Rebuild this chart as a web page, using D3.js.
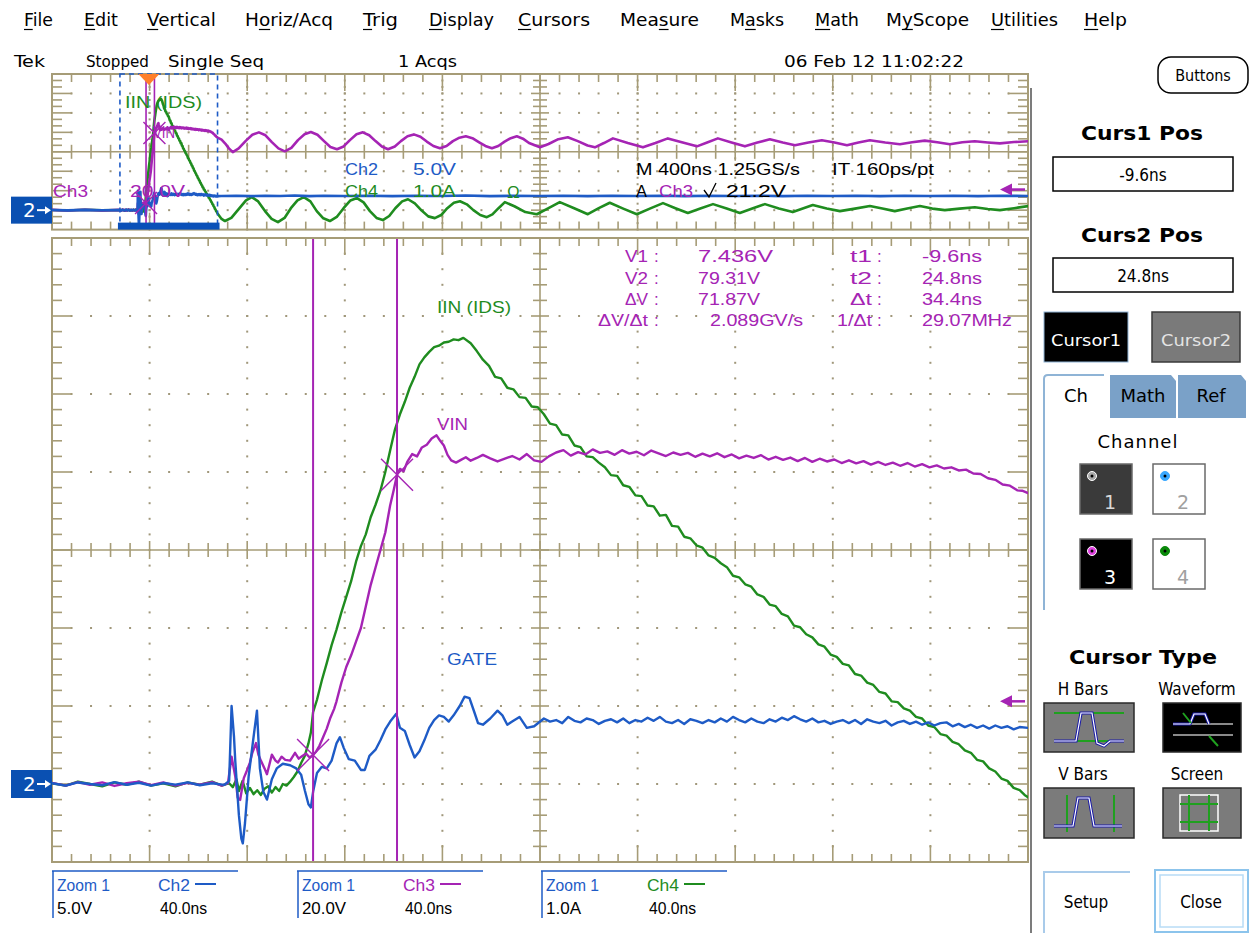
<!DOCTYPE html>
<html>
<head>
<meta charset="utf-8">
<title>Tek scope – cursor measurement</title>
<script src="https://cdn.jsdelivr.net/npm/d3@7"></script>
<style>
  html, body { margin: 0; padding: 0; background: #fff; }
  svg { display: block; }
</style>
</head>
<body>
<svg id="scope" width="1256" height="933"></svg>
<script>
// ---------------------------------------------------------------------------
// Acquisition settings
// ---------------------------------------------------------------------------
const channelNames   = ["Ch2", "Ch3", "Ch4"];
const channelLabels  = ["GATE", "VIN", "IIN (IDS)"];
const unitsPerDiv    = [5, 20, 1];            // Ch2 V/div, Ch3 V/div, Ch4 A/div
const zoomWindowNs   = [-116.6, 283.4];       // Zoom 1: 40 ns/div
const recordWindowNs = [-395, 3605];          // main record: 400 ns/div
const cursorTimesNs  = [-9.6, 24.8];
const cursorVolts    = [7.436, 79.31];
const triggerLevelV  = 21.2;

// Cursor readout table
const readLeftLabels  = ["V1", "V2", "\u0394V", "\u0394V/\u0394t"];
const readLeftValues  = ["7.436V", "79.31V", "71.87V", "2.089GV/s"];
const readRightLabels = ["t1", "t2", "\u0394t", "1/\u0394t"];
const readRightValues = ["-9.6ns", "24.8ns", "34.4ns", "29.07MHz"];

// ---------------------------------------------------------------------------
// Waveforms inside the zoom window: [time ns, value]
// ---------------------------------------------------------------------------
const iinZoom = [
  [-116.6,0.01],[-111,-0.02],[-106,0.03],[-101,0.0],[-96,-0.03],[-91,0.02],[-86,-0.01],[-81,0.03],
  [-76,-0.02],[-71,0.01],[-66,-0.03],[-61,0.02],[-56,-0.01],[-51,0.03],[-47,-0.02],[-44,0.01],
  [-42.5,-0.04],[-41,0.06],[-40,-0.09],[-38.5,0.04],[-37,-0.12],[-35.5,-0.05],[-34,-0.13],[-32.5,-0.08],
  [-31,-0.14],[-29.5,-0.06],[-28,-0.03],[-26.5,-0.11],[-25,-0.04],[-23.5,-0.09],[-22,0.0],[-20.5,-0.02],
  [-19,0.03],[-17.5,0.09],[-16,0.16],[-14.5,0.27],[-13,0.36],[-11.5,0.52],[-10.5,0.66],[-9.6,0.92],
  [-8,1.08],[-6,1.33],[-4,1.55],[-2,1.78],[0,1.98],[2,2.2],[4,2.4],[6,2.6],[8,2.85],[10,3.05],
  [12,3.2],[14,3.42],[16,3.58],[18,3.76],[20,4.0],[22,4.28],[24,4.55],[26,4.74],[28,4.9],[30,5.08],
  [32,5.22],[34,5.38],[36,5.47],[38,5.54],[40,5.6],[42,5.62],[44,5.66],[46,5.67],[48,5.7],[50,5.69],
  [52,5.72],[55,5.65],[57.5,5.55],[60,5.44],[62.5,5.36],[65,5.22],[67.5,5.2],[70,5.08],[72.5,5.06],
  [75,4.96],[77.5,4.95],[80,4.84],[82.5,4.83],[85,4.74],[87.5,4.62],[90,4.6],[92.5,4.48],[95,4.47],
  [97.5,4.34],[100,4.32],[102.5,4.2],[105,4.19],[107.5,4.12],[110,4.06],[112.5,3.96],[115,3.95],
  [117.5,3.83],[120,3.81],[122.5,3.7],[125,3.69],[127.5,3.57],[130,3.56],[132.5,3.44],[135,3.45],
  [137.5,3.31],[140,3.3],[142.5,3.17],[145,3.15],[147.5,3.06],[150,3.03],[152.5,2.93],[155,2.9],
  [157.5,2.83],[160,2.78],[162.5,2.67],[165,2.65],[167.5,2.56],[170,2.53],[172.5,2.43],[175,2.4],
  [177.5,2.3],[180,2.28],[182.5,2.18],[185,2.15],[187.5,2.03],[190,2.01],[192.5,1.92],[195,1.88],
  [197.5,1.79],[200,1.76],[202.5,1.66],[205,1.63],[207.5,1.54],[210,1.52],[212.5,1.41],[215,1.39],
  [217.5,1.3],[220,1.27],[222.5,1.18],[225,1.16],[227.5,1.06],[230,1.05],[232.5,0.97],[235,0.94],
  [237.5,0.86],[240,0.84],[242.5,0.75],[245,0.73],[247.5,0.64],[250,0.62],[252.5,0.54],[255,0.51],
  [257.5,0.43],[260,0.4],[262.5,0.31],[265,0.29],[267.5,0.2],[270,0.16],[272.5,0.07],[275,0.04],
  [277.5,-0.05],[280,-0.08],[282,-0.14],[283.4,-0.17]
];

const vinZoom = [
  [-116.6,0.3],[-111,-0.4],[-106,0.5],[-101,-0.2],[-96,0.4],[-91,-0.5],[-86,0.2],[-81,0.6],[-76,-0.3],
  [-71,0.4],[-66,-0.4],[-61,0.3],[-56,-0.2],[-51,0.5],[-47,-0.4],[-44.5,0.2],[-43,7.0],[-41.5,2.0],
  [-40.5,-3.5],[-39.5,-4.1],[-38,1.5],[-37,3.0],[-35.5,5.5],[-34.5,8.0],[-33,10.5],[-32,7.5],[-31,6.0],
  [-29.5,4.0],[-28.5,2.5],[-27.5,5.0],[-26.5,7.5],[-25,6.0],[-24,5.5],[-22.5,7.0],[-21,6.2],[-19,6.0],
  [-17,8.0],[-15.5,6.5],[-14,7.2],[-12.5,7.8],[-11,6.8],[-9.6,7.436],[-8.5,8.2],[-7,9.8],[-5.5,12.0],
  [-4,14.2],[-2.5,17.0],[-1,19.2],[0,21.2],[2,26.0],[4,30.0],[6,33.0],[8,36.5],[10,40.0],[12,45.5],
  [14,51.0],[16,55.5],[18,60.0],[20,64.5],[22,71.5],[23.5,75.5],[24.8,79.31],[26,80.8],[27.5,80.2],
  [29,82.6],[31,84.6],[33,84.0],[35,86.3],[37,87.0],[39,88.6],[41,89.4],[42.5,88.0],[44,86.8],
  [45.5,84.4],[47,83.0],[49,82.4],[51,83.1],[53,83.8],[55,82.9],[57.5,83.6],[60,84.4],[63,83.5],
  [66,82.7],[69,83.4],[72,84.1],[75,83.2],[78,84.6],[81,83.0],[84,82.6],[87,84.0],[90,85.0],[93,85.6],
  [96,84.2],[99,85.1],[102,84.5],[105,85.8],[108,84.9],[111,85.3],[114,84.4],[117,85.6],[120,84.7],
  [123,85.2],[126,84.3],[129,85.5],[132,84.8],[135,84.1],[138,85.0],[141,84.4],[144,84.9],[147,83.9],
  [150,84.7],[153,84.0],[156,84.8],[159,83.8],[162,84.5],[165,83.5],[168,84.2],[171,83.6],[174,84.3],
  [177,83.2],[180,83.9],[183,83.1],[186,83.7],[189,82.8],[192,83.6],[195,82.6],[198,83.4],[201,82.7],
  [204,83.2],[207,82.3],[210,83.0],[213,82.2],[216,82.8],[219,81.9],[222,82.6],[225,81.8],[228,82.4],
  [231,81.6],[234,82.3],[237,81.4],[240,82.0],[243,81.2],[246,81.7],[249,80.9],[252,81.2],[255,80.4],
  [258,80.6],[261,79.6],[264,79.5],[267,78.4],[270,78.0],[273,76.8],[276,76.5],[279,75.3],[281,75.2],
  [283.4,74.6]
];

const gateZoom = [
  [-116.6,0.05],[-111,-0.1],[-106,0.1],[-101,0.0],[-96,-0.08],[-91,0.12],[-86,-0.05],[-81,0.08],
  [-76,-0.1],[-71,0.06],[-66,-0.04],[-61,0.1],[-56,-0.08],[-51,0.05],[-46,-0.06],[-44,0.2],[-43,5.0],
  [-42,3.0],[-41.5,1.5],[-40,-2.0],[-39,-3.5],[-38.4,-3.8],[-37.5,-2.5],[-36,0.5],[-34,3.0],[-32.6,4.7],
  [-31.4,1.0],[-30,-0.5],[-28.5,-1.0],[-26.5,0.3],[-24.5,1.0],[-22,1.3],[-19,1.2],[-16.5,1.0],
  [-14.5,0.6],[-13,-0.4],[-11.5,-1.3],[-10.5,-1.5],[-9.6,-0.5],[-8,0.7],[-6,1.1],[-4,1.0],[-2,1.5],
  [0,2.6],[1.4,3.0],[3,2.3],[5,1.6],[7.5,1.5],[10,0.9],[11.6,0.9],[13.5,1.8],[16,2.2],[18,2.8],
  [20,3.5],[22,4.0],[24.5,4.5],[26,3.6],[28,3.4],[30,2.5],[32,1.7],[34,2.1],[36,2.8],[38,3.6],[40,4.1],
  [42,4.4],[44,4.3],[46,4.0],[48,4.4],[50.5,5.0],[52.5,5.6],[54.5,5.5],[56.5,4.6],[58,3.9],[60,3.8],
  [63,4.2],[66,4.7],[68,4.4],[70,3.8],[72,4.0],[75,4.3],[78,3.6],[81,3.7],[85,4.2],[87.5,4.0],[90,4.1],
  [92.5,3.9],[95,4.3],[97.5,4.05],[100,3.95],[102.5,4.2],[105,4.1],[107.5,3.85],[110,4.05],[112.5,4.15],
  [115,3.95],[117.5,4.2],[120,3.9],[122.5,4.1],[125,4.0],[127.5,4.25],[130,4.05],[132.5,4.3],[135,4.0],
  [137.5,3.9],[140,4.1],[142.5,3.85],[145,4.15],[147.5,4.05],[150,3.9],[152.5,4.1],[155,3.95],
  [157.5,4.2],[160,4.0],[162.5,4.3],[165,4.1],[167.5,3.95],[170,4.2],[172.5,4.0],[175,3.9],[177.5,4.15],
  [180,4.0],[182.5,4.25],[185,4.1],[187.5,4.35],[190,4.15],[192.5,4.0],[195,4.2],[197.5,3.95],
  [200,4.05],[202.5,3.85],[205,4.0],[207.5,4.1],[210,3.9],[212.5,4.1],[215,3.85],[217.5,4.15],
  [220,4.0],[222.5,3.9],[225,4.05],[227.5,3.75],[230,3.95],[232.5,4.05],[235,3.85],[237.5,4.0],
  [240,3.8],[242.5,3.95],[245,3.75],[247.5,3.9],[250,3.95],[252.5,3.7],[255,3.85],[257.5,3.65],
  [260,3.8],[262.5,3.6],[265,3.75],[267.5,3.55],[270,3.75],[272.5,3.6],[275,3.7],[277.5,3.5],
  [280,3.65],[283.4,3.6]
];

// Rest of the 4 us record: before and after the zoom window
const iinLead  = [[-395,0.01],[-330,-0.02],[-260,0.02],[-190,-0.01]];
const vinLead  = [[-395,0.3],[-330,-0.4],[-260,0.4],[-190,-0.3]];
const gateLead = [[-395,0.05],[-330,-0.05],[-260,0.08],[-190,-0.04]];

const iinTail = [
  [300,-0.45],[314,-0.56],[340,-0.4],[370,0.05],[400,0.5],[424,0.67],[450,0.45],[478,-0.05],[505,-0.45],
  [531,-0.62],[558,-0.4],[584,0.1],[611,0.5],[637,0.67],[664,0.45],[690,-0.05],[717,-0.42],[744,-0.56],
  [772,-0.35],[800,0.1],[828,0.5],[855,0.62],[882,0.4],[908,-0.05],[935,-0.4],[961,-0.51],[987,-0.3],
  [1012,0.1],[1040,0.45],[1064,0.56],[1092,0.35],[1120,-0.02],[1147,-0.32],[1174,-0.41],[1200,-0.25],
  [1225,0.1],[1252,0.38],[1277,0.46],[1305,0.3],[1332,0.0],[1360,-0.25],[1387,-0.36],[1410,-0.22],
  [1435,0.1],[1461,0.41],[1500,0.2],[1545,-0.1],[1592,-0.21],[1640,0.1],[1686,0.41],[1745,0.1],
  [1801,-0.21],[1846,0.1],[1891,0.38],[1946,0.08],[2002,-0.21],[2055,0.08],[2109,0.36],[2160,0.1],
  [2211,-0.15],[2262,0.08],[2314,0.31],[2370,0.08],[2424,-0.15],[2475,0.08],[2527,0.31],[2584,0.08],
  [2641,-0.1],[2682,0.08],[2723,0.26],[2780,0.08],[2834,-0.05],[2896,0.08],[2957,0.21],[3008,0.08],
  [3059,-0.05],[3110,0.08],[3162,0.21],[3213,0.08],[3264,0.0],[3325,0.08],[3387,0.15],[3440,0.06],
  [3490,0.0],[3548,0.1],[3605,0.21]
];

const vinTail = [
  [300,72.5],[315,68.5],[330,63.5],[346,59.7],[370,63.5],[400,71.5],[426,77.5],[453,80.0],[480,77.0],
  [506,70.0],[533,63.5],[559,60.5],[586,64.0],[613,72.0],[640,78.0],[666,80.3],[693,77.5],[720,71.0],
  [746,65.0],[773,62.6],[800,65.5],[826,72.0],[853,78.0],[879,80.0],[905,77.0],[931,71.0],[957,65.5],
  [982,62.6],[1010,65.5],[1035,71.0],[1062,76.0],[1088,77.9],[1115,75.5],[1141,70.5],[1168,66.0],
  [1195,63.6],[1222,66.0],[1248,71.0],[1275,74.5],[1301,75.9],[1328,74.0],[1354,70.0],[1381,66.0],
  [1408,63.6],[1434,66.0],[1460,70.5],[1485,74.0],[1510,75.9],[1535,73.5],[1560,69.0],[1605,64.6],
  [1640,68.0],[1680,73.0],[1719,74.9],[1760,71.0],[1800,66.5],[1830,64.6],[1867,69.0],[1904,73.8],
  [1965,69.0],[2027,64.6],[2078,69.0],[2129,73.8],[2190,69.5],[2248,65.6],[2290,69.5],[2334,73.8],
  [2390,69.5],[2445,65.6],[2496,69.5],[2547,72.8],[2600,69.5],[2650,66.7],[2705,69.5],[2760,71.8],
  [2812,69.5],[2863,66.7],[2910,69.5],[2957,71.8],[3020,69.5],[3080,67.7],[3130,69.8],[3182,71.5],
  [3233,69.8],[3285,67.7],[3336,69.8],[3387,70.8],[3440,69.6],[3490,68.7],[3548,70.0],[3605,70.8]
];

const gateTail = [
  [300,3.65],[360,3.7],[420,3.6],[480,3.7],[540,3.65],[600,3.75],[660,3.6],[720,3.7],[800,3.65],
  [900,3.7],[1000,3.6],[1100,3.7],[1200,3.65],[1300,3.75],[1400,3.6],[1500,3.7],[1600,3.65],
  [1700,3.7],[1800,3.6],[1900,3.7],[2000,3.65],[2100,3.7],[2200,3.6],[2300,3.7],[2400,3.65],
  [2500,3.7],[2600,3.6],[2700,3.7],[2800,3.65],[2900,3.7],[3000,3.6],[3100,3.7],[3200,3.65],
  [3300,3.7],[3400,3.6],[3500,3.7],[3605,3.65]
];

// UI text
const menuItems   = ["File","Edit","Vertical","Horiz/Acq","Trig","Display","Cursors","Measure","Masks","Math","MyScope","Utilities","Help"];
const menuHotkeys = [0,0,0,1,0,0,0,3,1,0,1,0,0];

// ---------------------------------------------------------------------------
// Layout and styling
// ---------------------------------------------------------------------------
const COL = { ch2: "#1e5bc6", ch3: "#a524b4", ch4: "#1f8c1f", grat: "#a69c77", dot: "#a0977a", marker: "#0a50b2" };
const SANS = "'Liberation Sans', Arial, sans-serif";
const DJV = "'DejaVu Sans', sans-serif";
const DJC = "'DejaVu Sans Condensed', 'DejaVu Sans', sans-serif";

const GX = 52, GW = 976;
const MAIN = { top: 238, h: 624, sub: 5 };
const OVER = { top: 74, h: 155.6, sub: 3 };

const svg = d3.select("#scope");

function label(g, x, y, s, o = {}) {
  const t = g.append("text").attr("x", x).attr("y", y).text(s)
    .attr("font-family", o.font || SANS)
    .attr("font-size", o.size || 17)
    .attr("fill", o.fill || "#000");
  if (o.anchor) t.attr("text-anchor", o.anchor);
  if (o.weight) t.attr("font-weight", o.weight);
  if (o.ls) t.attr("letter-spacing", o.ls);
  if (o.len) t.attr("textLength", o.len).attr("lengthAdjust", o.adjust || "spacingAndGlyphs");
  return t;
}

// scales
const xMain = d3.scaleLinear().domain(zoomWindowNs).range([GX, GX + GW]);
const xOver = d3.scaleLinear().domain(recordWindowNs).range([GX, GX + GW]);
// ground reference sits three divisions below centre for every channel
function verticalScale(perDiv, area) {
  return d3.scaleLinear().domain([-1 * perDiv, 7 * perDiv]).range([area.top + area.h, area.top]);
}
const yMain = unitsPerDiv.map(u => verticalScale(u, MAIN));
const yOver = unitsPerDiv.map(u => verticalScale(u, OVER));

// ---------------------------------------------------------------------------
// Graticule
// ---------------------------------------------------------------------------
function graticule(area) {
  const g = svg.append("g");
  const x0 = GX, y0 = area.top, w = GW, h = area.h;
  const dx = w / 10, dy = h / 8, sub = area.sub;
  const cx = x0 + 5 * dx, cy = y0 + 4 * dy;

  // dotted division lines
  const dots = [];
  for (let i = 1; i < 10; i++) if (i !== 5)
    for (let k = 0; k <= 8 * sub; k++) dots.push([x0 + i * dx, y0 + k * dy / sub]);
  for (let j = 1; j < 8; j++) if (j !== 4)
    for (let k = 0; k <= 50; k++) dots.push([x0 + k * dx / 5, y0 + j * dy]);
  g.selectAll(null).data(dots).join("rect")
    .attr("x", d => d[0] - 1).attr("y", d => d[1] - 1)
    .attr("width", 2).attr("height", 2).attr("fill", COL.dot);

  const segs = [];
  // centre cross
  segs.push([x0, cy, x0 + w, cy], [cx, y0, cx, y0 + h]);
  for (let k = 1; k < 50; k++) {
    const x = x0 + k * dx / 5, L = (k % 5 === 0) ? 9 : 7;
    segs.push([x, cy - L, x, cy + L]);
    const Lb = (k % 5 === 0) ? 17 : 8;
    segs.push([x, y0, x, y0 + Lb], [x, y0 + h - Lb, x, y0 + h]);
  }
  for (let k = 1; k < 8 * sub; k++) {
    const y = y0 + k * dy / sub, L = (k % sub === 0) ? 9 : 7;
    segs.push([cx - L, y, cx + L, y]);
    const Lb = (k % sub === 0) ? 20 : 10;
    segs.push([x0, y, x0 + Lb, y], [x0 + w - Lb, y, x0 + w, y]);
  }
  g.selectAll(null).data(segs).join("line")
    .attr("x1", d => d[0]).attr("y1", d => d[1]).attr("x2", d => d[2]).attr("y2", d => d[3])
    .attr("stroke", COL.grat).attr("stroke-width", 1.6);

  g.append("rect").attr("x", x0).attr("y", y0).attr("width", w).attr("height", h)
    .attr("fill", "none").attr("stroke", COL.grat).attr("stroke-width", 2);
}
graticule(OVER);
graticule(MAIN);

// clip regions for traces
const defs = svg.append("defs");
[["clipMain", MAIN], ["clipOver", OVER]].forEach(([id, a]) => {
  defs.append("clipPath").attr("id", id).append("rect")
    .attr("x", GX).attr("y", a.top).attr("width", GW).attr("height", a.h);
});

// ---------------------------------------------------------------------------
// Traces
// ---------------------------------------------------------------------------
function trace(g, data, xs, ys, color, width) {
  g.append("path").datum(data)
    .attr("d", d3.line().x(d => xs(d[0])).y(d => ys(d[1])))
    .attr("fill", "none").attr("stroke", color).attr("stroke-width", width)
    .attr("stroke-linejoin", "round").attr("stroke-linecap", "round");
}

// overview record
const gOver = svg.append("g").attr("clip-path", "url(#clipOver)");
trace(gOver, iinLead.concat(iinZoom, iinTail), xOver, yOver[2], COL.ch4, 2.6);
trace(gOver, vinLead.concat(vinZoom, vinTail), xOver, yOver[1], COL.ch3, 2.6);
trace(gOver, gateLead.concat(gateZoom, gateTail), xOver, yOver[0], COL.ch2, 2.6);

// zoomed view
const gMain = svg.append("g").attr("clip-path", "url(#clipMain)");
trace(gMain, iinZoom, xMain, yMain[2], COL.ch4, 2.4);
trace(gMain, vinZoom, xMain, yMain[1], COL.ch3, 2.4);
trace(gMain, gateZoom, xMain, yMain[0], COL.ch2, 2.4);

// ---------------------------------------------------------------------------
// Cursors
// ---------------------------------------------------------------------------
function cursors(xs, ys, area, arm, w) {
  const g = svg.append("g");
  cursorTimesNs.forEach((t, i) => {
    g.append("line").attr("x1", xs(t)).attr("x2", xs(t))
      .attr("y1", area.top + 1).attr("y2", area.top + area.h - 1)
      .attr("stroke", COL.ch3).attr("stroke-width", w);
    const px = xs(t), py = ys(cursorVolts[i]);
    g.append("path")
      .attr("d", `M${px - arm},${py - arm}L${px + arm},${py + arm}M${px - arm},${py + arm}L${px + arm},${py - arm}`)
      .attr("stroke", COL.ch3).attr("stroke-width", 1.4).attr("fill", "none");
  });
}
cursors(xMain, yMain[1], MAIN, 16, 2);
cursors(xOver, yOver[1], OVER, 11, 1.6);

// trigger level arrows (Ch3) at the right edge
function levelArrow(y) {
  svg.append("line").attr("x1", 1010).attr("x2", 1025).attr("y1", y).attr("y2", y)
    .attr("stroke", COL.ch3).attr("stroke-width", 2.5);
  svg.append("path").attr("d", `M1000,${y}L1012,${y - 6}L1012,${y + 6}Z`).attr("fill", COL.ch3);
}
levelArrow(yMain[1](triggerLevelV));
levelArrow(yOver[1](triggerLevelV));

// channel 2 ground markers
function groundMarker(y, hgt) {
  const g = svg.append("g");
  g.append("rect").attr("x", 11).attr("y", y - hgt / 2).attr("width", 41).attr("height", hgt).attr("fill", COL.marker);
  label(g, 23, y + 7, "2", { fill: "#fff", size: 20, font: DJV });
  g.append("line").attr("x1", 37).attr("x2", 47).attr("y1", y).attr("y2", y).attr("stroke", "#fff").attr("stroke-width", 2);
  g.append("path").attr("d", `M51,${y}L45,${y - 4}L45,${y + 4}Z`).attr("fill", "#fff");
}
groundMarker(yMain[0](0), 28);
groundMarker(yOver[0](0), 27);

// zoom window outline and trigger point in the overview
const zx0 = xOver(zoomWindowNs[0]), zx1 = xOver(zoomWindowNs[1]);
svg.append("rect").attr("x", zx0).attr("y", OVER.top).attr("width", zx1 - zx0).attr("height", OVER.h - 4)
  .attr("fill", "none").attr("stroke", COL.ch2).attr("stroke-width", 1.6).attr("stroke-dasharray", "5,4");
svg.append("rect").attr("x", zx0 - 2).attr("y", OVER.top + OVER.h - 7).attr("width", zx1 - zx0 + 4).attr("height", 7)
  .attr("fill", "#0a50b8");
const tx = xOver(0);
svg.append("path").attr("d", `M${tx - 10},${OVER.top}L${tx + 11},${OVER.top}L${tx + 0.5},${OVER.top + 11}Z`).attr("fill", "#ff7f2a");

// ---------------------------------------------------------------------------
// On-screen readouts
// ---------------------------------------------------------------------------
const gTxt = svg.append("g");
// overview labels
label(gTxt, 125, 108, channelLabels[2], { fill: COL.ch4, len: 77 });
label(gTxt, 153, 138, channelLabels[1], { fill: COL.ch3, len: 22 });
label(gTxt, 53, 197, "Ch3", { fill: COL.ch3, len: 35 });
label(gTxt, 130, 197, "20.0V", { fill: COL.ch3, len: 55 });
label(gTxt, 345, 175, channelNames[0], { fill: COL.ch2, len: 33 });
label(gTxt, 413, 175, "5.0V", { fill: COL.ch2, len: 43 });
label(gTxt, 345, 197, channelNames[2], { fill: COL.ch4, len: 33 });
label(gTxt, 413, 197, "1.0A", { fill: COL.ch4, len: 43 });
label(gTxt, 507, 198, "\u03A9", { fill: COL.ch4, size: 17 });
label(gTxt, 636, 175, "M 400ns 1.25GS/s", { len: 164 });
label(gTxt, 832, 175, "IT 160ps/pt", { len: 102 });
label(gTxt, 636, 197, "A", { len: 11 });
label(gTxt, 659, 197, channelNames[1], { fill: COL.ch3, len: 34 });
gTxt.append("path").attr("d", "M704,190L709,197L716,183").attr("fill", "none").attr("stroke", "#000").attr("stroke-width", 1.3);
label(gTxt, 726, 197, "21.2V", { len: 60 });

// zoom labels
label(gTxt, 437, 313, channelLabels[2], { fill: COL.ch4, len: 74 });
label(gTxt, 437, 430, channelLabels[1], { fill: COL.ch3, len: 31 });
label(gTxt, 447, 665, channelLabels[0], { fill: COL.ch2, len: 50 });

// cursor readout table
const rowY = [262, 284, 305, 326];
const leftLabelRight = 648, rightLabelRight = 872;
const leftValX = [698, 698, 698, 710], leftValW = [75, 62, 62, 93];
const rightValW = [60, 60, 60, 90];
const leftLabW = [23, 23, 23, 50], rightLabW = [22, 22, 22, 35];
rowY.forEach((y, i) => {
  label(gTxt, leftLabelRight - leftLabW[i], y, readLeftLabels[i], { fill: COL.ch3, len: leftLabW[i] });
  label(gTxt, 654, y, ":", { fill: COL.ch3 });
  label(gTxt, leftValX[i], y, readLeftValues[i], { fill: COL.ch3, len: leftValW[i] });
  label(gTxt, rightLabelRight - rightLabW[i], y, readRightLabels[i], { fill: COL.ch3, len: rightLabW[i] });
  label(gTxt, 877, y, ":", { fill: COL.ch3 });
  label(gTxt, 922, y, readRightValues[i], { fill: COL.ch3, len: rightValW[i] });
});

// zoom channel boxes along the bottom
const boxX = [52, 297, 541];
const boxScale = ["5.0V", "20.0V", "1.0A"];
const boxColor = [COL.ch2, COL.ch3, COL.ch4];
boxX.forEach((x, i) => {
  gTxt.append("line").attr("x1", x).attr("x2", x + 186).attr("y1", 871).attr("y2", 871).attr("stroke", COL.ch2).attr("stroke-width", 1.5);
  gTxt.append("line").attr("x1", x + 1).attr("x2", x + 1).attr("y1", 871).attr("y2", 918).attr("stroke", COL.ch2).attr("stroke-width", 1.5);
  label(gTxt, x + 5, 891, "Zoom 1", { fill: COL.ch2, size: 16, len: 53 });
  label(gTxt, x + 106, 891, channelNames[i], { fill: boxColor[i], size: 16, len: 32 });
  gTxt.append("line").attr("x1", x + 143).attr("x2", x + 164).attr("y1", 884).attr("y2", 884).attr("stroke", boxColor[i]).attr("stroke-width", 2);
  label(gTxt, x + 5, 914, boxScale[i], { size: 16, len: i === 1 ? 44 : 35 });
  label(gTxt, x + 108, 914, "40.0ns", { size: 16, len: 47 });
});

// ---------------------------------------------------------------------------
// Menu and status line
// ---------------------------------------------------------------------------
const menuX = [24, 84, 147, 245, 363, 429, 518, 620, 730, 815, 886, 991, 1084];
const menuW = [29, 34, 69, 88, 35, 65, 72, 79, 54, 44, 83, 67, 43];
const gMenu = svg.append("g");
menuItems.forEach((s, i) => {
  const t = label(gMenu, menuX[i], 26, s, { font: DJV, size: 17, len: menuW[i] });
  const n = t.node(), k = menuHotkeys[i];
  const a = n.getStartPositionOfChar(k).x, b = n.getEndPositionOfChar(k).x;
  gMenu.append("line").attr("x1", a).attr("x2", b).attr("y1", 29.5).attr("y2", 29.5).attr("stroke", "#000").attr("stroke-width", 1.2);
});
label(gMenu, 14, 67, "Tek", { font: DJC, size: 16, len: 31 });
label(gMenu, 86, 67, "Stopped", { font: DJC, size: 16, len: 63 });
label(gMenu, 168, 67, "Single Seq", { font: DJC, size: 16, len: 96 });
label(gMenu, 398, 67, "1 Acqs", { font: DJC, size: 16, len: 59 });
label(gMenu, 784, 67, "06 Feb 12 11:02:22", { font: DJC, size: 16, len: 180 });

// ---------------------------------------------------------------------------
// Side panel
// ---------------------------------------------------------------------------
const gP = svg.append("g");
gP.append("line").attr("x1", 1031).attr("x2", 1031).attr("y1", 88).attr("y2", 933).attr("stroke", "#7c7c7c").attr("stroke-width", 2);

gP.append("rect").attr("x", 1158).attr("y", 57).attr("width", 90).attr("height", 36).attr("rx", 13)
  .attr("fill", "#fff").attr("stroke", "#000").attr("stroke-width", 1.5);
label(gP, 1203, 81, "Buttons", { font: DJC, size: 16, anchor: "middle" });

label(gP, 1142, 140, "Curs1 Pos", { font: DJV, size: 19, weight: "bold", anchor: "middle", len: 122 });
gP.append("rect").attr("x", 1053).attr("y", 157).attr("width", 180).attr("height", 34).attr("fill", "#fff").attr("stroke", "#000").attr("stroke-width", 1.5);
label(gP, 1143, 181, readRightValues[0], { font: DJC, size: 17, anchor: "middle" });
label(gP, 1142, 242, "Curs2 Pos", { font: DJV, size: 19, weight: "bold", anchor: "middle", len: 122 });
gP.append("rect").attr("x", 1053).attr("y", 258).attr("width", 180).attr("height", 34).attr("fill", "#fff").attr("stroke", "#000").attr("stroke-width", 1.5);
label(gP, 1143, 282, readRightValues[1], { font: DJC, size: 17, anchor: "middle" });

gP.append("rect").attr("x", 1044).attr("y", 312).attr("width", 84).attr("height", 50).attr("fill", "#000").attr("stroke", "#8fb4d6").attr("stroke-width", 1);
label(gP, 1086, 346, "Cursor1", { font: DJC, size: 16, fill: "#fff", anchor: "middle", len: 70 });
gP.append("rect").attr("x", 1152).attr("y", 312).attr("width", 88).attr("height", 50).attr("fill", "#7a7a7a").attr("stroke", "#3a3a3a").attr("stroke-width", 1.5);
label(gP, 1196, 346, "Cursor2", { font: DJC, size: 16, fill: "#e4e4e4", anchor: "middle", len: 70 });

// tabs
gP.append("path").attr("d", "M1110,418L1110,375L1171,375L1176,381L1176,418Z").attr("fill", "#7aa1c8");
gP.append("path").attr("d", "M1178,418L1178,375L1241,375L1246,381L1246,418Z").attr("fill", "#7aa1c8");
gP.append("path").attr("d", "M1044,610L1044,379Q1044,375 1048,375L1104,375").attr("fill", "none").attr("stroke", "#8fb4d6").attr("stroke-width", 2);
label(gP, 1076, 402, "Ch", { font: DJV, size: 18, anchor: "middle" });
label(gP, 1143, 402, "Math", { font: DJV, size: 18, anchor: "middle" });
label(gP, 1211, 402, "Ref", { font: DJV, size: 18, anchor: "middle" });
label(gP, 1138, 448, "Channel", { font: DJV, size: 18, anchor: "middle", ls: 1 });

// channel selector buttons
const chBtn = [
  { x: 1080, y: 464, bg: "#3a3a3a", fg: "#d8d8d8", icon: "#a8a8a8", n: "1" },
  { x: 1153, y: 464, bg: "#fff", fg: "#a0a0a0", icon: "#3aa8ff", n: "2" },
  { x: 1080, y: 539, bg: "#000", fg: "#fff", icon: "#e040e0", n: "3" },
  { x: 1153, y: 539, bg: "#fff", fg: "#a0a0a0", icon: "#0a8a0a", n: "4" }
];
chBtn.forEach(b => {
  gP.append("rect").attr("x", b.x).attr("y", b.y).attr("width", 52).attr("height", 50)
    .attr("fill", b.bg).attr("stroke", "#6a6a6a").attr("stroke-width", 1.5);
  gP.append("circle").attr("cx", b.x + 12).attr("cy", b.y + 12).attr("r", 4.5)
    .attr("fill", b.icon).attr("stroke", b.bg === "#fff" ? b.icon : "#fff").attr("stroke-width", 1);
  gP.append("circle").attr("cx", b.x + 12).attr("cy", b.y + 12).attr("r", 1.5).attr("fill", "#000");
  label(gP, b.x + 24, b.y + 45, b.n, { font: DJV, size: 19, fill: b.fg });
});

// cursor type selector
label(gP, 1143, 664, "Cursor Type", { font: DJV, size: 19, weight: "bold", anchor: "middle", len: 148 });
label(gP, 1083, 695, "H Bars", { font: DJC, size: 17, anchor: "middle" });
label(gP, 1197, 695, "Waveform", { font: DJC, size: 17, anchor: "middle" });
label(gP, 1083, 780, "V Bars", { font: DJC, size: 17, anchor: "middle" });
label(gP, 1197, 780, "Screen", { font: DJC, size: 17, anchor: "middle" });

function typeButton(x, y, w, h, bg) {
  gP.append("rect").attr("x", x).attr("y", y).attr("width", w).attr("height", h)
    .attr("fill", bg).attr("stroke", "#2a2a2a").attr("stroke-width", 1.5);
}
function pulse(d) {
  gP.append("path").attr("d", d).attr("fill", "none").attr("stroke", "#1a1aa8").attr("stroke-width", 3.2);
  gP.append("path").attr("d", d).attr("fill", "none").attr("stroke", "#fff").attr("stroke-width", 1.2);
}
typeButton(1044, 703, 90, 49, "#7b7b7b");
gP.append("path").attr("d", "M1054,713H1124M1054,741H1124").attr("stroke", "#1fa01f").attr("stroke-width", 2);
pulse("M1054,741H1076L1081,713H1092L1097,743L1104,746L1110,741H1124");
typeButton(1163, 703, 78, 49, "#000");
gP.append("path").attr("d", "M1173,724H1233M1173,735H1233").attr("stroke", "#8a8a8a").attr("stroke-width", 2);
pulse("M1173,724H1190L1194,714H1205L1209,724");
gP.append("path").attr("d", "M1183,713L1191,723M1209,736L1218,746").attr("stroke", "#1fa01f").attr("stroke-width", 2);
typeButton(1044, 788, 90, 50, "#7b7b7b");
gP.append("path").attr("d", "M1067,795V832M1114,795V832").attr("stroke", "#1fa01f").attr("stroke-width", 2);
pulse("M1054,826H1073L1078,798H1089L1094,826H1122");
typeButton(1163, 788, 78, 50, "#7b7b7b");
gP.append("rect").attr("x", 1180).attr("y", 795).attr("width", 38).attr("height", 36).attr("fill", "none").attr("stroke", "#fff").attr("stroke-width", 1.5);
gP.append("path").attr("d", "M1180,804H1218M1180,822H1218M1189,795V831M1209,795V831").attr("stroke", "#1fa01f").attr("stroke-width", 2);

// setup / close
gP.append("path").attr("d", "M1044,933V872H1130").attr("fill", "none").attr("stroke", "#a9cbea").attr("stroke-width", 2);
label(gP, 1086, 908, "Setup", { font: DJC, size: 17, anchor: "middle" });
gP.append("rect").attr("x", 1155).attr("y", 870).attr("width", 93).attr("height", 62).attr("fill", "#fff").attr("stroke", "#8cc4ec").attr("stroke-width", 2);
gP.append("rect").attr("x", 1160).attr("y", 875).attr("width", 83).attr("height", 52).attr("fill", "none").attr("stroke", "#b8dcf6").attr("stroke-width", 1.5);
label(gP, 1201, 908, "Close", { font: DJC, size: 17, anchor: "middle" });
</script>
</body>
</html>
